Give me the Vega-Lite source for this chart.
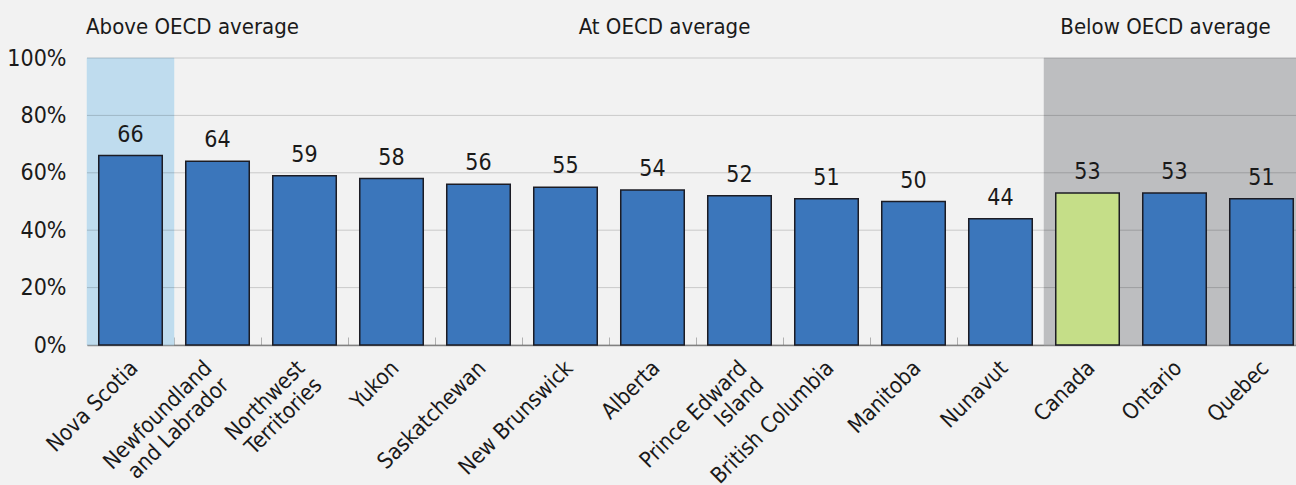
{
  "$schema": "https://vega.github.io/schema/vega-lite/v6.json",
  "width": 1209,
  "height": 287,
  "autosize": {"type": "none"},
  "padding": {"left": 87, "top": 58, "right": 0, "bottom": 140},
  "background": "#f2f2f2",
  "config": {
    "view": {"stroke": null},
    "font": "DejaVu Sans Condensed, Liberation Sans, sans-serif"
  },
  "datasets": {
    "provinces": [
      {"province": "Nova Scotia", "group": "Above OECD average", "value": 66},
      {"province": "Newfoundland and Labrador", "group": "At OECD average", "value": 64},
      {"province": "Northwest Territories", "group": "At OECD average", "value": 59},
      {"province": "Yukon", "group": "At OECD average", "value": 58},
      {"province": "Saskatchewan", "group": "At OECD average", "value": 56},
      {"province": "New Brunswick", "group": "At OECD average", "value": 55},
      {"province": "Alberta", "group": "At OECD average", "value": 54},
      {"province": "Prince Edward Island", "group": "At OECD average", "value": 52},
      {"province": "British Columbia", "group": "At OECD average", "value": 51},
      {"province": "Manitoba", "group": "At OECD average", "value": 50},
      {"province": "Nunavut", "group": "At OECD average", "value": 44},
      {"province": "Canada", "group": "Below OECD average", "value": 53},
      {"province": "Ontario", "group": "Below OECD average", "value": 53},
      {"province": "Quebec", "group": "Below OECD average", "value": 51}
    ],
    "gridlines": [
      {"pct": 0}, {"pct": 20}, {"pct": 40}, {"pct": 60}, {"pct": 80}, {"pct": 100}
    ],
    "headers": [
      {"header": "Above OECD average", "anchor": "Newfoundland and Labrador"},
      {"header": "At OECD average", "anchor": "Alberta"},
      {"header": "Below OECD average", "anchor": "Ontario"}
    ]
  },
  "layer": [
    {
      "data": {"name": "provinces"},
      "transform": [{"filter": "datum.group === 'Above OECD average'"}],
      "mark": {"type": "bar", "width": {"band": 1}, "color": "#bfdcee", "stroke": "#bfdcee", "strokeWidth": 0.5},
      "encoding": {
        "x": {"field": "province", "type": "nominal",
              "scale": {"domain": ["Nova Scotia", "Newfoundland and Labrador", "Northwest Territories", "Yukon", "Saskatchewan", "New Brunswick", "Alberta", "Prince Edward Island", "British Columbia", "Manitoba", "Nunavut", "Canada", "Ontario", "Quebec"], "paddingInner": 0, "paddingOuter": 0, "range": [0, 1218]},
              "axis": {"title": null, "domain": true, "domainColor": "#8c8c8c", "domainWidth": 1.5,
                       "ticks": true, "tickBand": "extent", "tickSize": -8, "tickColor": "#b0b0b0",
                       "labelAngle": -45, "labelAlign": "right", "labelBaseline": "top",
                       "labelFontSize": 22, "labelColor": "#1a1a1a", "labelPadding": 20,
                       "labelLineHeight": 24,
                       "labelOffset": {"condition": [
                         {"test": "datum.value === 'Newfoundland and Labrador'", "value": -17},
                         {"test": "datum.value === 'Northwest Territories'", "value": -11}
                       ], "value": -4},
                       "labelExpr": "datum.label === 'Newfoundland and Labrador' ? ['Newfoundland', 'and Labrador'] : datum.label === 'Northwest Territories' ? ['Northwest', 'Territories'] : datum.label === 'Prince Edward Island' ? ['Prince Edward', 'Island\u2003\u2003'] : datum.label"}},
        "y": {"datum": 0, "type": "quantitative"},
        "y2": {"datum": 100}
      }
    },
    {
      "data": {"name": "provinces"},
      "transform": [{"filter": "datum.group === 'Below OECD average'"}],
      "mark": {"type": "bar", "width": {"band": 1}, "color": "#bdbec0", "stroke": "#bdbec0", "strokeWidth": 0.5},
      "encoding": {
        "x": {"field": "province", "type": "nominal", "title": null},
        "y": {"datum": 0, "type": "quantitative"},
        "y2": {"datum": 100}
      }
    },
    {
      "data": {"name": "gridlines"},
      "mark": {"type": "rule", "color": "#000000", "opacity": 0.17, "strokeWidth": 1},
      "encoding": {
        "y": {"field": "pct", "type": "quantitative",
              "scale": {"domain": [0, 100], "nice": false},
              "axis": {"values": [0, 20, 40, 60, 80, 100], "labelExpr": "datum.value + '%'",
                       "title": null, "grid": false, "ticks": false, "domain": true,
                       "domainColor": "#b8b8b8", "labelFontSize": 23, "labelColor": "#1a1a1a",
                       "labelPadding": 21}}
      }
    },
    {
      "data": {"name": "provinces"},
      "mark": {"type": "bar", "width": {"band": 0.73}, "stroke": "#1c1c24", "strokeWidth": 1.5},
      "encoding": {
        "x": {"field": "province", "type": "nominal", "title": null},
        "y": {"field": "value", "type": "quantitative", "title": null},
        "color": {"condition": {"test": "datum.province === 'Canada'", "value": "#c5de88"}, "value": "#3b76bb"}
      }
    },
    {
      "data": {"name": "provinces"},
      "mark": {"type": "text", "fontSize": 23, "color": "#1a1a1a", "baseline": "alphabetic", "dy": -14},
      "encoding": {
        "x": {"field": "province", "type": "nominal", "title": null},
        "y": {"field": "value", "type": "quantitative", "title": null},
        "text": {"field": "value", "type": "quantitative"}
      }
    },
    {
      "data": {"name": "headers"},
      "transform": [{"filter": "datum.header === 'Above OECD average'"}],
      "mark": {"type": "text", "fontSize": 22, "color": "#1a1a1a", "baseline": "alphabetic", "dy": -24, "dx": -25},
      "encoding": {
        "x": {"field": "anchor", "type": "nominal", "title": null},
        "y": {"datum": 100, "type": "quantitative"},
        "text": {"field": "header"}
      }
    },
    {
      "data": {"name": "headers"},
      "transform": [{"filter": "datum.header === 'At OECD average'"}],
      "mark": {"type": "text", "fontSize": 22, "color": "#1a1a1a", "baseline": "alphabetic", "dy": -24, "dx": 12},
      "encoding": {
        "x": {"field": "anchor", "type": "nominal", "title": null},
        "y": {"datum": 100, "type": "quantitative"},
        "text": {"field": "header"}
      }
    },
    {
      "data": {"name": "headers"},
      "transform": [{"filter": "datum.header === 'Below OECD average'"}],
      "mark": {"type": "text", "fontSize": 22, "color": "#1a1a1a", "baseline": "alphabetic", "dy": -24, "dx": -9},
      "encoding": {
        "x": {"field": "anchor", "type": "nominal", "title": null},
        "y": {"datum": 100, "type": "quantitative"},
        "text": {"field": "header"}
      }
    }
  ]
}
